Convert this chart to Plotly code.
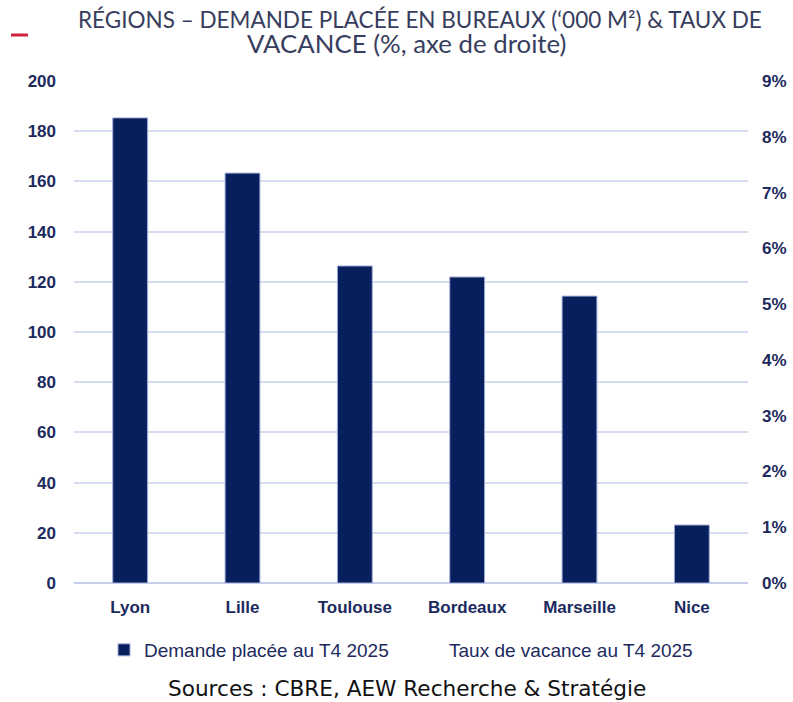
import plotly.graph_objects as go

cities = ["Lyon", "Lille", "Toulouse", "Bordeaux", "Marseille", "Nice"]
demande = [185.3, 163.3, 126.3, 121.9, 114.3, 23.1]
vacance = [None, None, None, None, None, None]  # not visible in the reference
left_ticks = [0, 20, 40, 60, 80, 100, 120, 140, 160, 180, 200]
right_ticks = [0, 0.01, 0.02, 0.03, 0.04, 0.05, 0.06, 0.07, 0.08, 0.09]
right_labels = ["0%", "1%", "2%", "3%", "4%", "5%", "6%", "7%", "8%", "9%"]
title_lines = ["RÉGIONS – DEMANDE PLACÉE EN BUREAUX (‘000 M²) & TAUX DE",
               "VACANCE (%, axe de droite)"]
source_text = "Sources : CBRE, AEW Recherche & Stratégie"

NAVY = "#071f5c"
TXT = "#1c2a5e"
tickfont = dict(family="Liberation Sans, Arial, sans-serif", size=17, color=TXT, weight="bold")
legfont = dict(family="Liberation Sans, Arial, sans-serif", size=19, color=TXT)

# the page's body margin is removed by the post_script below, so figure px == screen px
W, H = 793, 702
PX0, PX1, PY0, PY1 = 74, 748, 81, 583  # plot box in figure px
L, R, T, B = PX0, W - PX1, PY0, H - PY1
PW, PH = PX1 - PX0, PY1 - PY0


def xp(sx):  # screen x -> paper
    return (sx - PX0) / PW


def yp(sy):  # screen y -> paper
    return (PY1 - sy) / PH


fig = go.Figure()
fig.add_trace(go.Bar(
    x=cities, y=demande, name="Demande placée au T4 2025",
    marker=dict(color=NAVY, line=dict(color="#9fabd6", width=1)),
    yaxis="y", legend="legend",
))
fig.add_trace(go.Scatter(
    x=cities, y=vacance, name="Taux de vacance au T4 2025",
    mode="lines", line=dict(color="rgba(0,0,0,0)", width=2),
    yaxis="y2", legend="legend2",
))

fig.update_layout(
    width=W, height=H,
    margin=dict(l=L, r=R, t=T, b=B, autoexpand=False),
    paper_bgcolor="white", plot_bgcolor="white",
    bargap=0.69,
    showlegend=True,
    legend=dict(x=xp(104), xanchor="left", y=yp(650), yanchor="middle",
                font=legfont, itemwidth=30, bgcolor="rgba(0,0,0,0)"),
    legend2=dict(x=xp(409), xanchor="left", y=yp(650), yanchor="middle",
                 font=legfont, itemwidth=30, bgcolor="rgba(0,0,0,0)"),
    xaxis=dict(showgrid=False, showline=False, ticks="",
               tickfont=tickfont, ticklabelstandoff=12),
    yaxis=dict(range=[0, 200], tickvals=left_ticks, showgrid=True,
               gridcolor="#d6dcf2", gridwidth=1.5, zeroline=True, zerolinecolor="#c6cdec",
               zerolinewidth=1.5, tickfont=tickfont, ticklabelstandoff=17, ticks=""),
    yaxis2=dict(range=[0, 0.09], tickvals=right_ticks, ticktext=right_labels,
                overlaying="y", side="right", showgrid=False, zeroline=False,
                tickfont=tickfont, ticklabelstandoff=13, ticks=""),
)

for sx, sy, size, line in zip([420, 406], [19, 43], [22.5, 25.8], title_lines):
    fig.add_annotation(text=line, xref="paper", yref="paper", x=xp(sx), y=yp(sy),
                       showarrow=False, xanchor="center", yanchor="middle",
                       font=dict(family="Lato, Liberation Sans, sans-serif", size=size,
                                 color="#373d5e"))

fig.add_annotation(text=source_text, xref="paper", yref="paper",
                   x=xp(407), y=yp(688), showarrow=False,
                   xanchor="center", yanchor="middle",
                   font=dict(family="DejaVu Sans, Verdana, sans-serif", size=21.6, color="#111111"))

# red accent dash at top-left
fig.add_shape(type="line", xref="paper", yref="paper",
              x0=xp(11), x1=xp(28), y0=yp(35), y1=yp(35),
              line=dict(color="#d0223c", width=3))

fig.write_html(
    "out.html",
    config={"displayModeBar": False},
    post_script="document.body.style.margin='0';document.body.style.overflow='hidden';",
)
